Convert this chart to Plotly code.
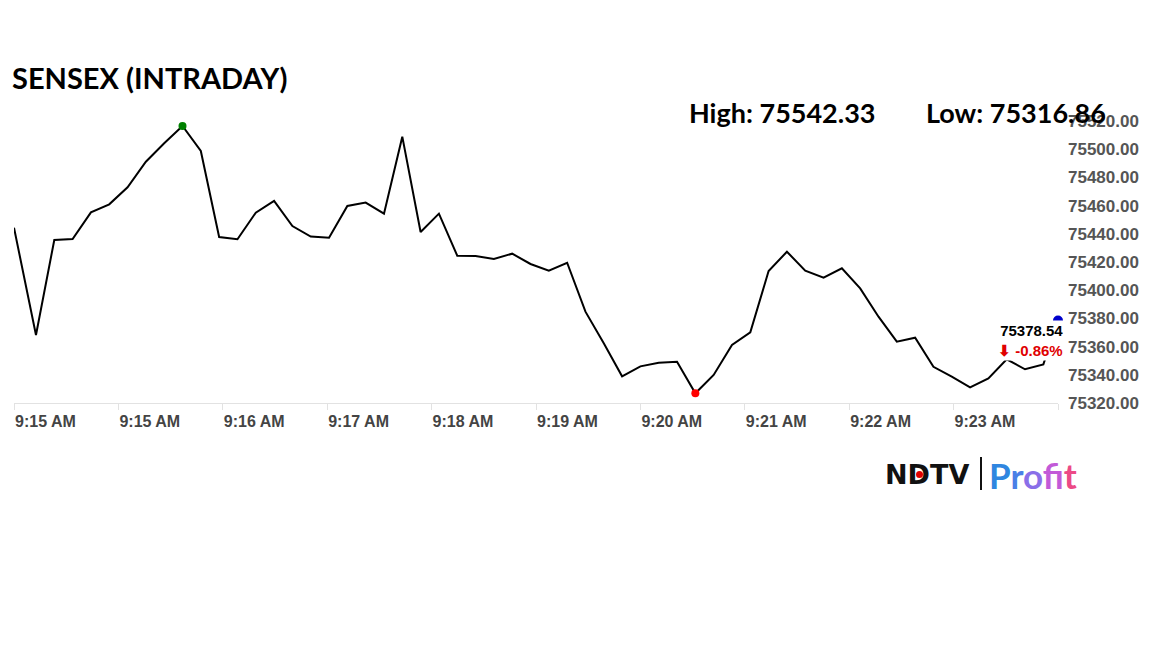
import plotly.graph_objects as go

# ---- data ----
seconds = [0] + [12 + 10 * k for k in range(56)] + [570]   # seconds after 9:15:00
values = [75444.3, 75368.2, 75435.6, 75436.3, 75455.2, 75460.9, 75473.0, 75491.1, 75504.2, 75516.5,
          75498.7, 75437.7, 75436.1, 75455.0, 75463.3, 75445.5, 75438.0, 75437.2, 75459.7, 75462.1,
          75454.3, 75508.9, 75441.3, 75454.3, 75424.5, 75424.3, 75422.1, 75425.9, 75418.6, 75413.9,
          75419.5, 75384.8, 75362.3, 75338.9, 75346.0, 75348.6, 75349.3, 75326.9, 75339.9, 75361.1,
          75370.1, 75413.6, 75427.3, 75413.9, 75408.9, 75415.5, 75401.3, 75381.2, 75363.5, 75366.3,
          75345.7, 75338.7, 75331.1, 75337.5, 75351.0, 75343.9, 75347.4, 75378.54]
tick_seconds = [0, 57, 114, 171, 228, 285, 342, 399, 456, 513, 570]
tick_labels = ["9:15 AM", "9:15 AM", "9:16 AM", "9:17 AM", "9:18 AM", "9:19 AM",
               "9:20 AM", "9:21 AM", "9:22 AM", "9:23 AM", " "]
y_ticks = [75320, 75340, 75360, 75380, 75400, 75420, 75440, 75460, 75480, 75500, 75520]
day_high = 75542.33
day_low = 75316.86
last_value = 75378.54
change_pct = -0.86

W, H = 1152, 648
OX, OY = 8, 8          # page body offset
L, R, T, B = 14 - OX, 94 + OX, 110 - OY, 245 + OY
pw, ph = W - L - R, H - T - B


def px(x):
    return (x - OX - L) / pw


def py(y):
    return (H - B - (y - OY)) / ph


imax = values.index(max(values))
imin = values.index(min(values))

fig = go.Figure()
fig.add_trace(go.Scatter(x=seconds, y=values, mode="lines",
                         line=dict(color="black", width=2), hoverinfo="skip"))
fig.add_trace(go.Scatter(x=[seconds[imax]], y=[values[imax]], mode="markers",
                         marker=dict(color="green", size=8), cliponaxis=False))
fig.add_trace(go.Scatter(x=[seconds[imin]], y=[values[imin]], mode="markers",
                         marker=dict(color="red", size=8), cliponaxis=False))
fig.add_trace(go.Scatter(x=[seconds[-1]], y=[values[-1]], mode="markers",
                         marker=dict(color="#0000cc", size=10), cliponaxis=False))

annotations = [
    dict(x=px(10), y=py(77), xref="paper", yref="paper", xanchor="left", yanchor="middle",
         text="SENSEX (INTRADAY)", showarrow=False,
         font=dict(family="Lato", size=29, color="black", weight="bold")),
    dict(x=px(687), y=py(112), xref="paper", yref="paper", xanchor="left", yanchor="middle",
         text=f"High: {day_high:.2f}", showarrow=False,
         font=dict(family="Lato", size=27, color="black", weight="bold")),
    dict(x=px(924), y=py(112), xref="paper", yref="paper", xanchor="left", yanchor="middle",
         text=f"Low: {day_low:.2f}", showarrow=False,
         font=dict(family="Lato", size=27, color="black", weight="bold")),
    dict(x=seconds[-1], y=last_value, xref="x", yref="y", xanchor="right", yanchor="top",
         xshift=7, yshift=0, showarrow=False, bgcolor="white", borderpad=1, align="right",
         text=f"{last_value:.2f}<br><span style='color:#e00000'>⬇ {change_pct:.2f}%</span>",
         font=dict(family="Liberation Sans", size=15, color="black", weight="bold")),
    dict(x=px(883), y=py(474), xref="paper", yref="paper", xanchor="left", yanchor="middle",
         text="NDTV", showarrow=False,
         font=dict(family="DejaVu Sans", size=27, color="#111", weight="bold")),
    dict(x=px(987), y=py(475), xref="paper", yref="paper", xanchor="left", yanchor="middle",
         text=("<b><span style='color:#2f86e0'>P</span><span style='color:#4a7fe6'>r</span>"
               "<span style='color:#8a6fe8'>o</span><span style='color:#c25ad8'>f</span>"
               "<span style='color:#e04aa6'>i</span><span style='color:#ec4a86'>t</span></b>"),
         showarrow=False, font=dict(family="Lato", size=35, weight="bold")),
]

shapes = [
    dict(type="line", xref="paper", yref="paper", x0=px(981), x1=px(981), y0=py(457), y1=py(490),
         line=dict(color="#111", width=2)),
    dict(type="circle", xref="paper", yref="paper", x0=px(916), x1=px(923), y0=py(471), y1=py(478),
         fillcolor="#e00000", line=dict(width=0), layer="above"),
]

fig.update_layout(
    width=W, height=H,
    margin=dict(l=L, r=R, t=T, b=B),
    paper_bgcolor="white", plot_bgcolor="white",
    showlegend=False,
    annotations=annotations,
    shapes=shapes,
    xaxis=dict(range=[0, 570], tickmode="array", tickvals=tick_seconds, ticktext=tick_labels,
               showgrid=False, zeroline=False, showline=True, linecolor="#e2e2e2", linewidth=1,
               ticks="outside", ticklen=6, tickcolor="#e2e2e2", ticklabelposition="outside right",
               ticklabelstandoff=4,
               tickfont=dict(family="Liberation Sans", size=16, color="#444", weight="bold")),
    yaxis=dict(range=[75320, 75320 + ph / 1.41], side="right", tickmode="array", tickvals=y_ticks,
               tickformat=".2f", showgrid=False, zeroline=False, showline=False, ticks="",
               ticklabelstandoff=9,
               tickfont=dict(family="Liberation Sans", size=17, color="#555", weight="bold")),
)

fig.write_html("out.html")
